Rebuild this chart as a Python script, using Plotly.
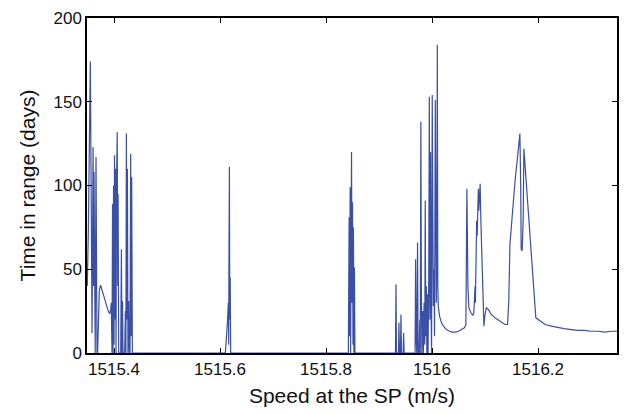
import plotly.graph_objects as go

# Speed at the SP (m/s)
speed = [
    1515.3495, 1515.3515, 1515.3553, 1515.3571, 1515.3585, 1515.3605, 1515.3615, 1515.3622,
    1515.3633, 1515.3645, 1515.3660, 1515.3669, 1515.3679, 1515.3690, 1515.3703, 1515.3722,
    1515.3746, 1515.3778, 1515.3816, 1515.3853, 1515.3891, 1515.3919, 1515.3938,
    1515.3947, 1515.3962, 1515.3972, 1515.3981, 1515.3991, 1515.4000, 1515.4009, 1515.4019,
    1515.4028, 1515.4038, 1515.4047, 1515.4060, 1515.4070, 1515.4077, 1515.4088, 1515.4126,
    1515.4139, 1515.4150, 1515.4160, 1515.4169, 1515.4201, 1515.4214, 1515.4224, 1515.4233,
    1515.4242, 1515.4252, 1515.4263, 1515.4276, 1515.4289, 1515.4301, 1515.4314, 1515.4323,
    1515.4333, 1515.4346,
    1515.6100, 1515.6118, 1515.6143, 1515.6156, 1515.6164, 1515.6169, 1515.6177, 1515.6184,
    1515.6192, 1515.6201,
    1515.8421, 1515.8436, 1515.8446, 1515.8455, 1515.8464, 1515.8472, 1515.8481, 1515.8491,
    1515.8500, 1515.8509, 1515.8517, 1515.8526, 1515.8536, 1515.8545,
    1515.9310, 1515.9320, 1515.9329, 1515.9367, 1515.9376, 1515.9385, 1515.9404, 1515.9414,
    1515.9423, 1515.9455, 1515.9464, 1515.9474,
    1515.9680, 1515.9690, 1515.9699, 1515.9712, 1515.9727, 1515.9737, 1515.9756, 1515.9769,
    1515.9778, 1515.9789, 1515.9799, 1515.9808, 1515.9825, 1515.9836, 1515.9850, 1515.9863,
    1515.9872, 1515.9882, 1515.9893, 1515.9902, 1515.9915, 1515.9925, 1515.9938, 1515.9949,
    1515.9959, 1515.9972, 1515.9981, 1515.9991, 1516.0004, 1516.0013, 1516.0024, 1516.0038,
    1516.0047, 1516.0062, 1516.0071, 1516.0081, 1516.0090, 1516.0100, 1516.0109, 1516.0118,
    1516.0141, 1516.0179, 1516.0216, 1516.0273, 1516.0329, 1516.0385, 1516.0442, 1516.0498,
    1516.0555, 1516.0611, 1516.0639, 1516.0658, 1516.0677, 1516.0695, 1516.0733, 1516.0771,
    1516.0789, 1516.0803, 1516.0812, 1516.0818, 1516.0827, 1516.0842, 1516.0852, 1516.0865,
    1516.0874, 1516.0883, 1516.0897, 1516.0908, 1516.0921, 1516.0936, 1516.0953, 1516.0968,
    1516.0979, 1516.0996, 1516.1024, 1516.1062, 1516.1118, 1516.1188, 1516.1250, 1516.1312,
    1516.1376, 1516.1425, 1516.1447, 1516.1470, 1516.1500, 1516.1532, 1516.1570, 1516.1607,
    1516.1658, 1516.1673, 1516.1682, 1516.1701, 1516.1720, 1516.1733, 1516.1758, 1516.1814,
    1516.1876, 1516.1927, 1516.1959, 1516.2002, 1516.2064, 1516.2134, 1516.2252, 1516.2378,
    1516.2491, 1516.2628, 1516.2754, 1516.2880, 1516.2998, 1516.3130, 1516.3261, 1516.3374,
    1516.3490,
]

# Time in range (days)
days = [
    40, 72, 174, 60, 12, 123, 40, 108,
    0, 0, 117, 40, 0, 0, 25, 37,
    40.5, 37, 32, 28, 25, 23.5, 26,
    30, 0, 89, 0, 100, 5, 118, 20,
    110, 0, 100, 132, 40, 95, 0, 0,
    62, 0, 31, 0, 0, 25, 0, 131,
    20, 110, 0, 31, 0, 0, 119, 10,
    105, 0,
    0, 7, 20, 30, 5, 60, 111, 20,
    45, 0,
    0, 81, 10, 99, 0, 60, 120, 30,
    90, 5, 75, 0, 51, 0,
    0, 41, 0, 0, 18, 0, 0, 23,
    0, 0, 12, 0,
    0, 56, 10, 0, 66, 0, 0, 20,
    0, 138, 40, 0, 25, 0, 30, 5,
    91, 10, 40, 0, 35, 0, 45, 153,
    20, 120, 30, 0, 154, 40, 28, 50,
    10, 151, 45, 30, 60, 184, 40, 28,
    22, 18, 16, 14, 13, 12.5, 12.5, 13,
    14, 15, 17, 98, 40, 27, 24, 22.5,
    24, 32, 40, 30, 56, 79, 70, 96,
    98, 85, 92, 101, 80, 61, 40, 30,
    16, 22, 27, 26, 23, 21, 19.5, 18,
    17, 17, 30, 65, 78, 91, 104, 115,
    131, 100, 62, 61, 80, 122, 110, 85,
    55, 35, 21, 20, 19, 17, 16, 15,
    14.5, 14, 13.5, 13.5, 13, 13, 12.5, 13,
    13,
]

x_tick_vals = [1515.4, 1515.6, 1515.8, 1516.0, 1516.2]
x_tick_text = ["1515.4", "1515.6", "1515.8", "1516", "1516.2"]
y_tick_vals = [0, 50, 100, 150, 200]

FONT = "Liberation Sans, Arial, sans-serif"

fig = go.Figure()
fig.add_trace(go.Scatter(
    x=speed, y=days, mode="lines",
    line=dict(color="#3a4fa6", width=1.2),
    showlegend=False,
))

axis_common = dict(
    showline=True, linecolor="black", linewidth=1.5, mirror="ticks",
    ticks="inside", ticklen=5, tickwidth=1, tickcolor="black",
    showgrid=False, zeroline=False,
    tickfont=dict(family=FONT, size=17, color="#111"),
)

fig.update_layout(
    width=628, height=414,
    margin=dict(l=87, r=9, t=17, b=61),
    paper_bgcolor="white", plot_bgcolor="white",
    xaxis=dict(
        range=[1515.349, 1516.349],
        tickvals=x_tick_vals, ticktext=x_tick_text,
        title=dict(text="Speed at the SP (m/s)", standoff=10,
                   font=dict(family=FONT, size=21, color="#111")),
        **axis_common,
    ),
    yaxis=dict(
        range=[0, 200],
        tickvals=y_tick_vals,
        title=dict(text="Time in range (days)", standoff=12,
                   font=dict(family=FONT, size=21, color="#111")),
        **axis_common,
    ),
)

fig.write_html("out.html")
